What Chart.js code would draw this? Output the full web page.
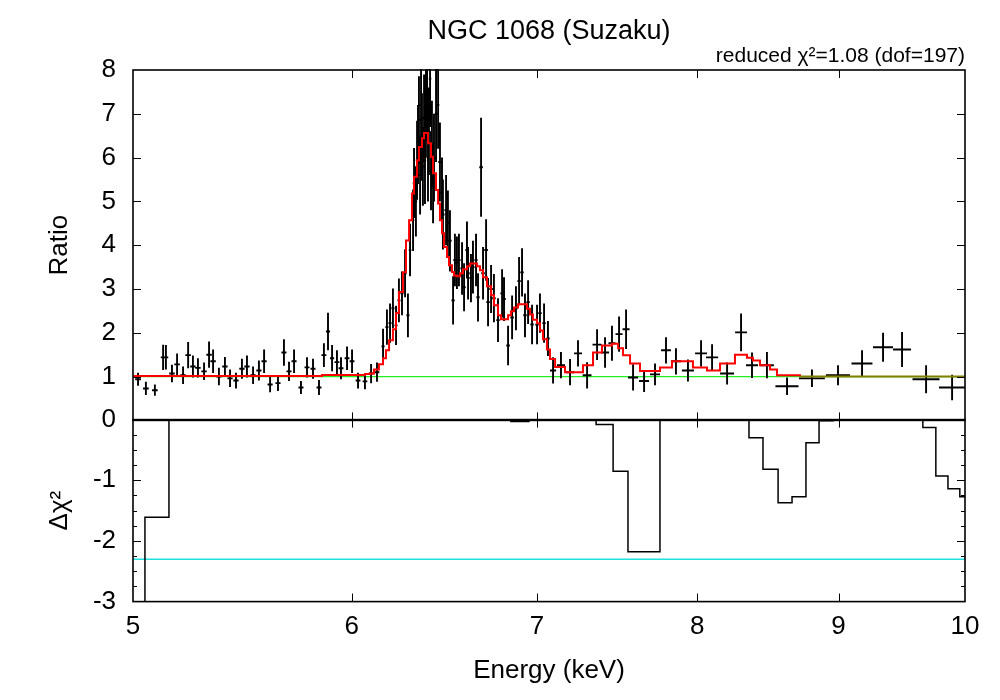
<!DOCTYPE html>
<html>
<head>
<meta charset="utf-8">
<script src="https://cdnjs.cloudflare.com/ajax/libs/Chart.js/4.4.1/chart.umd.js"></script>
<style>
html,body{margin:0;padding:0;background:#fff;}
#wrap{position:relative;width:1000px;height:700px;overflow:hidden;}
canvas{position:absolute;left:0;}
#ratioChart{top:0;}
#dchiChart{top:387px;}
</style>
</head>
<body>
<div id="wrap">
<canvas id="ratioChart" width="1000" height="453"></canvas>
<canvas id="dchiChart" width="1000" height="314"></canvas>
</div>
<script>
// data / model ratio (energy in keV)
const energy=[5.021,5.054,5.092,5.127,5.139,5.165,5.187,5.213,5.235,5.256,5.278,5.305,5.327,5.345,5.371,5.398,5.421,5.448,5.475,5.498,
  5.526,5.553,5.577,5.605,5.642,5.670,5.694,5.718,5.751,5.780,5.809,5.838,5.862,5.882,5.902,5.926,5.946,5.976,6.001,6.031,
  6.066,6.097,6.127,6.158,6.178,6.194,6.209,6.225,6.240,6.256,6.272,6.287,6.298,6.314,6.319,6.329,6.335,6.340,6.345,6.351,
  6.356,6.361,6.366,6.372,6.377,6.382,6.388,6.393,6.398,6.404,6.409,6.414,6.420,6.425,6.436,6.447,6.457,6.468,6.473,6.490,
  6.500,6.511,6.528,6.538,6.549,6.560,6.577,6.588,6.604,6.610,6.626,6.637,6.654,6.665,6.682,6.693,6.710,6.721,6.738,6.754,
  6.777,6.800,6.811,6.834,6.857,6.879,6.897,6.914,6.931,6.949,6.972,7.001,7.018,7.042,7.065,7.095,7.142,7.196,7.244,7.299,
  7.360,7.409,7.452,7.496,7.540,7.584,7.654,7.724,7.795,7.860,7.939,8.026,8.100,8.202,8.298,8.374,8.479,8.622,8.803,8.996,
  9.178,9.340,9.489,9.681,9.893];
const energyErr=[0.012,0.012,0.012,0.010,0.010,0.012,0.012,0.012,0.012,0.012,0.012,0.012,0.012,0.012,0.012,0.012,0.012,0.012,0.012,0.012,
  0.012,0.012,0.012,0.012,0.012,0.012,0.012,0.012,0.012,0.012,0.012,0.012,0.012,0.010,0.010,0.012,0.012,0.012,0.012,0.012,
  0.012,0.012,0.012,0.008,0.008,0.008,0.008,0.008,0.008,0.008,0.008,0.008,0.0065,0.0065,0.0065,0.0065,0.0065,0.0065,0.0065,0.0065,
  0.0065,0.0065,0.0065,0.0065,0.0065,0.0065,0.0065,0.0065,0.0065,0.0065,0.0065,0.0065,0.0065,0.0065,0.0065,0.0065,0.009,0.009,0.009,0.009,
  0.009,0.009,0.009,0.009,0.009,0.009,0.009,0.009,0.009,0.009,0.009,0.009,0.009,0.009,0.010,0.010,0.010,0.010,0.010,0.010,
  0.010,0.010,0.010,0.010,0.010,0.010,0.010,0.010,0.010,0.010,0.010,0.010,0.010,0.010,0.010,0.018,0.024,0.024,0.024,0.027,
  0.028,0.025,0.022,0.022,0.022,0.032,0.032,0.032,0.032,0.033,0.040,0.040,0.041,0.048,0.041,0.042,0.049,0.083,0.095,0.090,
  0.080,0.078,0.071,0.109,0.107];
const ratio=[0.94,0.73,0.69,1.44,1.44,1.07,1.28,1.03,1.49,1.23,1.20,1.12,1.50,1.35,1.00,1.23,0.96,0.91,1.18,1.23,
  1.03,1.14,1.35,0.82,0.85,1.55,1.12,1.35,0.75,1.21,1.18,0.75,1.49,2.03,1.42,1.33,1.19,1.42,1.35,0.91,
  0.89,1.07,1.10,1.69,2.13,2.22,2.56,2.17,2.74,2.90,3.36,2.40,3.89,4.57,5.42,5.00,5.94,6.30,6.86,5.60,
  7.20,6.47,5.80,6.90,5.94,7.00,7.47,6.00,6.60,7.80,5.70,6.30,5.40,6.00,7.00,7.20,5.90,5.20,4.70,4.80,
  4.50,4.10,2.74,3.66,3.60,3.66,3.47,3.04,3.89,3.36,3.25,3.50,3.66,2.81,5.78,3.36,3.89,2.70,3.00,2.79,
  2.29,2.90,2.77,1.71,2.35,2.56,3.18,3.38,2.40,2.70,2.19,2.19,2.45,2.22,1.87,1.14,1.26,1.10,1.53,1.03,
  1.73,1.55,1.76,1.97,2.08,0.98,0.90,1.05,1.60,1.35,1.14,1.53,1.44,1.07,2.01,1.26,1.26,0.78,0.96,1.03,
  1.30,1.67,1.62,0.94,0.75];
const ratioErr=[0.15,0.15,0.13,0.29,0.28,0.20,0.25,0.20,0.30,0.25,0.22,0.20,0.30,0.27,0.20,0.22,0.20,0.18,0.23,0.25,
  0.20,0.23,0.27,0.18,0.18,0.30,0.22,0.27,0.15,0.23,0.23,0.17,0.27,0.43,0.30,0.27,0.25,0.27,0.27,0.18,
  0.18,0.22,0.22,0.40,0.40,0.45,0.45,0.45,0.50,0.50,0.55,0.50,0.60,0.70,0.80,0.80,0.90,0.90,1.00,0.90,
  1.00,1.00,0.90,1.00,1.00,1.00,1.10,1.00,1.00,1.10,0.90,1.00,0.90,1.00,1.10,1.00,0.90,0.80,0.80,0.80,
  0.75,0.70,0.55,0.60,0.60,0.60,0.60,0.55,0.65,0.60,0.55,0.60,0.60,0.55,1.13,0.60,0.70,0.55,0.55,0.55,
  0.50,0.55,0.50,0.45,0.50,0.50,0.55,0.55,0.50,0.50,0.45,0.45,0.45,0.45,0.40,0.30,0.30,0.30,0.30,0.30,
  0.35,0.35,0.40,0.40,0.45,0.30,0.25,0.25,0.30,0.30,0.25,0.30,0.30,0.25,0.43,0.29,0.30,0.20,0.20,0.23,
  0.30,0.33,0.40,0.32,0.29];

// model: left bin edges and level (step histogram)
const modelEdge=[5.000,5.853,6.066,6.091,6.112,6.137,6.158,6.173,6.189,6.209,6.225,6.240,6.261,6.277,6.293,6.308,6.319,6.335,6.345,6.361,
  6.372,6.393,6.409,6.420,6.436,6.447,6.457,6.468,6.479,6.495,6.506,6.522,6.533,6.549,6.566,6.582,6.604,6.621,6.659,6.676,
  6.693,6.715,6.738,6.754,6.777,6.794,6.834,6.851,6.868,6.891,6.943,6.960,6.977,7.001,7.018,7.036,7.059,7.077,7.107,7.166,
  7.274,7.335,7.390,7.452,7.490,7.521,7.565,7.628,7.756,7.834,7.972,8.066,8.154,8.256,8.339,8.381,8.430,8.501,8.550,8.716,10.0];
const modelRatio=[1.015,1.035,1.06,1.07,1.16,1.28,1.42,1.60,1.83,2.08,2.45,2.93,3.38,4.11,4.57,5.18,5.56,5.94,6.24,6.44,
  6.56,6.33,6.02,5.64,5.26,4.95,4.57,4.27,3.96,3.73,3.54,3.39,3.31,3.29,3.36,3.45,3.52,3.58,3.52,3.43,
  3.27,3.06,2.86,2.63,2.40,2.31,2.40,2.49,2.58,2.65,2.55,2.42,2.30,2.22,2.05,1.85,1.62,1.40,1.22,1.10,
  1.26,1.55,1.71,1.75,1.65,1.49,1.30,1.13,1.21,1.35,1.21,1.14,1.30,1.50,1.43,1.37,1.26,1.16,1.03,1.00,1.00];

// delta chi^2: left bin edges and level
const dchiEdge=[5.000,5.050,5.152,6.850,6.954,7.354,7.459,7.552,7.756,8.353,8.451,8.558,8.658,8.759,8.855,8.959,9.655,9.760,9.859,9.957,10.0];
const dchiVal=[-3.6,-1.61,0,-0.03,0,-0.08,-0.85,-2.18,0,-0.30,-0.82,-1.37,-1.27,-0.38,-0.02,0,-0.13,-0.93,-1.14,-1.27,-1.27];

const xTicks=[5,6,7,8,9,10];
const ratioTicks=[1,2,3,4,5,6,7,8];
const dchiTicks=[0,-1,-2,-3];
const unityLevel=1;
const dchiLevel=-2.3;

const FONT="'Liberation Sans', Arial, Helvetica, sans-serif";
const AXW=133;

function errorBars(){
  return {id:'errorBars',
    afterDatasetDraw(chart,args){
      if(args.index!==1) return;
      const {ctx,chartArea:a,scales:{x,y}}=chart;
      ctx.save();
      ctx.beginPath();ctx.rect(a.left,a.top-1,a.right-a.left,a.bottom-a.top+2);ctx.clip();
      ctx.strokeStyle='#000';ctx.lineWidth=1.9;ctx.beginPath();
      energy.forEach((e,i)=>{
        const py=y.getPixelForValue(ratio[i]);
        ctx.moveTo(x.getPixelForValue(e-energyErr[i]),py);
        ctx.lineTo(x.getPixelForValue(e+energyErr[i]),py);
        const px=x.getPixelForValue(e);
        ctx.moveTo(px,y.getPixelForValue(ratio[i]-ratioErr[i]));
        ctx.lineTo(px,y.getPixelForValue(ratio[i]+ratioErr[i]));
      });
      ctx.stroke();ctx.restore();
    }};
}

function frame(yMajor,yMinorStep){
  return {id:'frame',
    afterDraw(chart){
      const {ctx,chartArea:a,scales:{x,y}}=chart;
      ctx.save();
      ctx.strokeStyle='#000';ctx.lineWidth=1;ctx.beginPath();
      xTicks.slice(1,-1).forEach(v=>{
        const px=Math.round(x.getPixelForValue(v))+0.5;
        ctx.moveTo(px,a.top);ctx.lineTo(px,a.top+8);
        ctx.moveTo(px,a.bottom);ctx.lineTo(px,a.bottom-8);
      });
      yMajor.forEach(v=>{
        const py=Math.round(y.getPixelForValue(v))+0.5;
        ctx.moveTo(a.left,py);ctx.lineTo(a.left+8,py);
        ctx.moveTo(a.right,py);ctx.lineTo(a.right-8,py);
      });
      if(yMinorStep){
        for(let v=y.max;v>y.min;v-=yMinorStep){
          const py=Math.round(y.getPixelForValue(v))+0.5;
          ctx.moveTo(a.left,py);ctx.lineTo(a.left+4,py);
          ctx.moveTo(a.right,py);ctx.lineTo(a.right-4,py);
        }
      }
      ctx.stroke();
      ctx.lineWidth=1.6;
      ctx.strokeRect(a.left,a.top,a.right-a.left,a.bottom-a.top);
      ctx.restore();
    }};
}

const tickFont={family:FONT,size:26};
const titleFont={family:FONT,size:26};

new Chart(document.getElementById('ratioChart'),{
  type:'line',
  data:{datasets:[
    {label:'model',data:modelEdge.map((e,i)=>({x:e,y:modelRatio[i]})),stepped:'before',
      borderColor:'#ff0000',borderWidth:2,pointRadius:0,fill:false,
      segment:{borderColor:c=>c.p0.parsed.x>=8.7?'#808000':'#ff0000'}},
    {label:'data',data:energy.map((e,i)=>({x:e,y:ratio[i]})),showLine:false,pointRadius:0},
    {label:'unity',data:[{x:xTicks[0],y:unityLevel},{x:xTicks[xTicks.length-1],y:unityLevel}],
      borderColor:'#22ee22',borderWidth:1.3,pointRadius:0}
  ]},
  options:{
    responsive:false,animation:false,events:[],
    layout:{padding:{left:0,right:35,top:0,bottom:6}},
    plugins:{
      legend:{display:false},tooltip:{enabled:false},
      title:{display:true,text:'NGC 1068 (Suzaku)',fullSize:false,color:'#000',
        font:{family:FONT,size:27,weight:'normal',lineHeight:1},padding:{top:18,bottom:0}},
      subtitle:{display:true,text:'reduced χ²=1.08 (dof=197)',fullSize:false,align:'end',color:'#000',
        font:{family:FONT,size:21,weight:'normal',lineHeight:1},padding:{top:1,bottom:3}}
    },
    scales:{
      x:{type:'logarithmic',min:5,max:10,display:false},
      y:{min:0,max:8,
        afterFit(s){s.width=AXW;},
        afterBuildTicks(s){s.ticks=ratioTicks.map(v=>({value:v}));},
        grid:{display:false,drawTicks:false},border:{display:false},
        ticks:{padding:17,color:'#000',font:tickFont,callback:v=>String(v)},
        title:{display:true,text:'Ratio',color:'#000',font:titleFont,padding:{top:44,bottom:0}}}
    }
  },
  plugins:[errorBars(),frame(ratioTicks.slice(0,-1),0)]
});

new Chart(document.getElementById('dchiChart'),{
  type:'line',
  data:{datasets:[
    {label:'Δχ²',data:dchiEdge.map((e,i)=>({x:e,y:dchiVal[i]})),stepped:'before',
      borderColor:'#000',borderWidth:1.5,pointRadius:0,fill:false},
    {label:'level',data:[{x:xTicks[0],y:dchiLevel},{x:xTicks[xTicks.length-1],y:dchiLevel}],
      borderColor:'#1fe0e0',borderWidth:1.5,pointRadius:0}
  ]},
  options:{
    responsive:false,animation:false,events:[],
    layout:{padding:{left:0,right:35,top:8,bottom:0}},
    plugins:{legend:{display:false},tooltip:{enabled:false}},
    scales:{
      x:{type:'logarithmic',min:5,max:10,
        afterBuildTicks(s){s.ticks=xTicks.map(v=>({value:v}));},
        grid:{display:false,drawTicks:false},border:{display:false},
        ticks:{padding:10,color:'#000',font:tickFont,maxRotation:0,autoSkip:false,callback:v=>String(v)},
        title:{display:true,text:'Energy (keV)',color:'#000',font:titleFont,padding:{top:2,bottom:15}}},
      y:{min:-3,max:0,
        afterFit(s){s.width=AXW;},
        afterBuildTicks(s){s.ticks=dchiTicks.map(v=>({value:v}));},
        grid:{display:false,drawTicks:false},border:{display:false},
        ticks:{padding:17,color:'#000',font:tickFont,callback:v=>String(v)},
        title:{display:true,text:'Δχ²',color:'#000',font:titleFont,padding:{top:44,bottom:0}}}
    }
  },
  plugins:[frame([-1,-2],0.25)]
});
</script>
</body>
</html>
